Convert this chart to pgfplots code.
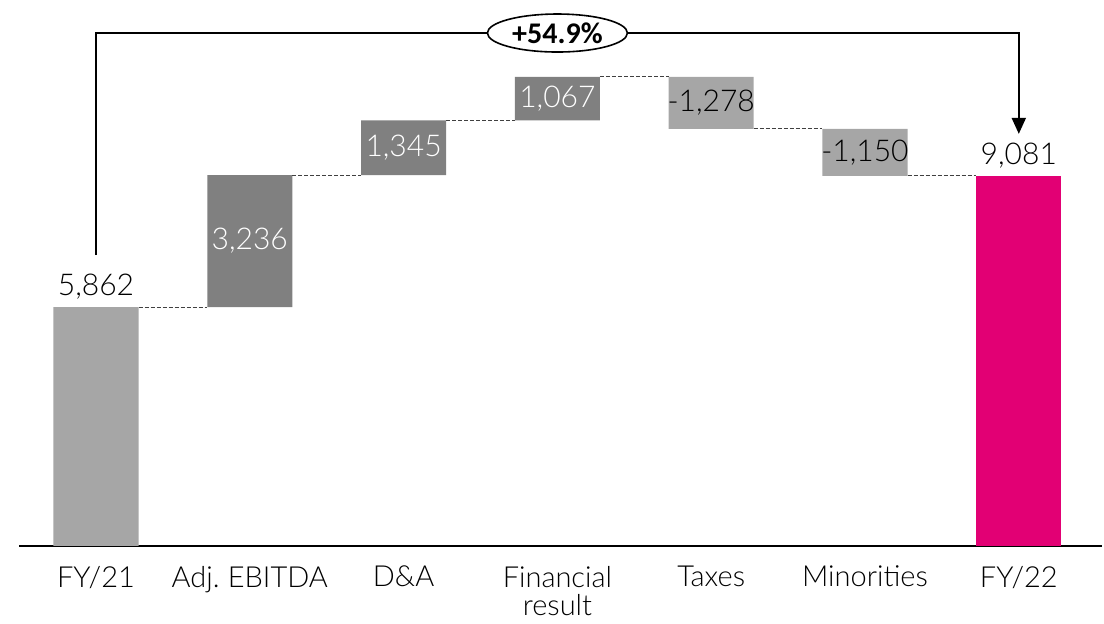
\documentclass[border=0pt]{standalone}
\usepackage{pgfplots}
\pgfplotsset{compat=1.18}
\usepackage{fontspec}
\setmainfont{Carlito}
\newfontfamily\lightfont{Lato Light}
\usetikzlibrary{arrows.meta,shapes.geometric}
\definecolor{lg}{HTML}{A6A6A6}
\definecolor{dg}{HTML}{808080}
\definecolor{mag}{HTML}{E20074}
\pgfplotsset{
  geom/.style={scale only axis, width=541.5pt, height=267pt,
    xmin=-0.5006, xmax=6.541, ymin=0, ymax=13100, clip=false},
}
\begin{document}
\begin{tikzpicture}
\begin{axis}[geom,
  ybar stacked, bar width=0.553,
  axis x line=bottom, axis y line=none,
  x axis line style={-, line width=1pt},
  xtick={0,1,2,3,4,5,6},
  xticklabels={FY/21, Adj.\hspace{-0.08em} EBITDA, D\&A, Financial\\result, Taxes, Minorities, FY/22},
  xticklabel style={align=center, font=\lightfont\fontsize{14.5}{14}\selectfont, yshift=-6.5pt},
  major tick length=0pt,
]
\addplot[draw=none, fill=none] coordinates {(0,0) (1,5862) (2,9098) (3,10443) (4,10232) (5,9082) (6,0)};
\addplot[draw=none, fill=lg] coordinates {(0,5862) (1,0) (2,0) (3,0) (4,1278) (5,1150) (6,0)};
\addplot[draw=none, fill=dg] coordinates {(0,0) (1,3236) (2,1345) (3,1067) (4,0) (5,0) (6,0)};
\addplot[draw=none, fill=mag] coordinates {(0,0) (1,0) (2,0) (3,0) (4,0) (5,0) (6,9081)};
\end{axis}
\begin{axis}[geom, hide axis]
\pgfplotsset{conn/.style={line width=0.5pt, color=black!75, dash pattern=on 2pt off 1pt}}
\addplot[conn] coordinates {(0.2765,5862) (0.7235,5862)};
\addplot[conn] coordinates {(1.2765,9098) (1.7235,9098)};
\addplot[conn] coordinates {(2.2765,10443) (2.7235,10443)};
\addplot[conn] coordinates {(3.2765,11510) (3.7235,11510)};
\addplot[conn] coordinates {(4.2765,10232) (4.7235,10232)};
\addplot[conn] coordinates {(5.2765,9082) (5.7235,9082)};
\addplot[line width=1pt, -{Triangle[width=7pt,length=8pt]}] coordinates {(0,7138) (0,12584) (6,12584) (6,10110)};
\node[ellipse, draw, line width=0.8pt, fill=white, minimum width=70pt, minimum height=19pt, inner sep=0pt,
  font=\fontsize{15}{15}\selectfont\bfseries] at (axis cs:3,12584) {+54.9\%};
\begin{scope}[every node/.style={font=\lightfont\fontsize{15}{15}\selectfont, inner sep=0pt}]
\node at (axis cs:0,6353) {5,862};
\node[text=white] at (axis cs:1,7480) {3,236};
\node[text=white] at (axis cs:2,9770) {1,345};
\node[text=white] at (axis cs:3,10976) {1,067};
\node at (axis cs:4,10871) {-1,278};
\node at (axis cs:5,9657) {-1,150};
\node at (axis cs:6,9572) {9,081};
\end{scope}
\coordinate (BL) at ([shift={(-9.5pt,-39pt)}]rel axis cs:0,0);
\coordinate (TR) at ([shift={(1pt,6pt)}]rel axis cs:1,1);
\end{axis}
\pgfresetboundingbox
\path[use as bounding box] (BL) rectangle (TR);
\end{tikzpicture}
\end{document}
